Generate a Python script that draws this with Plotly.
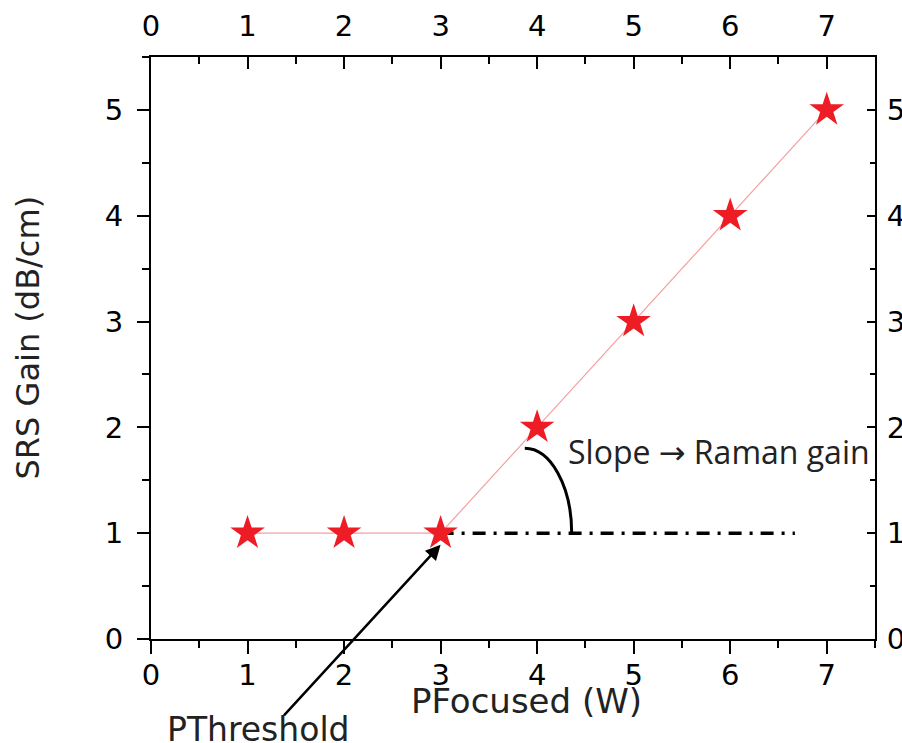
import plotly.graph_objects as go

# Data
p_focused = [1, 2, 3, 4, 5, 6, 7]
srs_gain = [1, 1, 1, 2, 3, 4, 5]
threshold_x = 3
threshold_y = 1
baseline_end_x = 6.67
x_ticks = [0, 1, 2, 3, 4, 5, 6, 7]
y_ticks = [0, 1, 2, 3, 4, 5]

FONT = "DejaVu Sans"
RED = "#ee1c25"

fig = go.Figure()

# thin connecting line
fig.add_trace(go.Scatter(
    x=p_focused, y=srs_gain, mode="lines",
    line=dict(color="#f4a0a0", width=1.2), hoverinfo="skip", showlegend=False))

# dash-dot baseline from threshold
fig.add_trace(go.Scatter(
    x=[threshold_x, baseline_end_x], y=[threshold_y, threshold_y], mode="lines",
    line=dict(color="black", width=3.5, dash="13px,8px,3px,8px"),
    hoverinfo="skip", showlegend=False))

# star markers
fig.add_trace(go.Scatter(
    x=p_focused, y=srs_gain, mode="markers",
    marker=dict(symbol="star", size=26, color=RED, line=dict(width=0)),
    showlegend=False))

# arc marking the slope angle (quarter ellipse)
ax0, ay0 = 3.872, 1.802
ax1, ay1 = 4.358, 1.0
k = 0.552
path = (f"M {ax0},{ay0} C {ax0 + k*(ax1-ax0)},{ay0} {ax1},{ay1 + k*(ay0-ay1)} {ax1},{ay1}")
fig.add_shape(type="path", path=path, xref="x", yref="y",
              line=dict(color="black", width=3))

tickfont = dict(family=FONT, size=29, color="black")
common = dict(showline=True, linewidth=2, linecolor="black", showgrid=False,
              zeroline=False, tickwidth=2, tickcolor="black", tickfont=tickfont,
              automargin=False)

fig.update_layout(
    width=902, height=743,
    margin=dict(l=151, r=27, t=57, b=104),
    paper_bgcolor="white", plot_bgcolor="white",
    xaxis=dict(range=[0, 7.5], tickvals=x_ticks, ticks="outside", ticklen=13,
               minor=dict(dtick=0.5, ticks="outside", ticklen=7, tickwidth=2, tickcolor="black"),
               ticklabelstandoff=-4, **common),
    xaxis2=dict(range=[0, 7.5], tickvals=x_ticks, ticks="inside", ticklen=12,
                overlaying="x", side="top", anchor="y",
                minor=dict(dtick=0.5, ticks="inside", ticklen=7, tickwidth=2, tickcolor="black"),
                ticklabelstandoff=7, **common),
    yaxis=dict(range=[0, 5.5], tickvals=y_ticks, ticks="outside", ticklen=12,
               minor=dict(dtick=0.5, ticks="outside", ticklen=7, tickwidth=2, tickcolor="black"),
               ticklabelstandoff=8, **common),
    yaxis2=dict(range=[0, 5.5], tickvals=y_ticks, ticks="inside", ticklen=8,
                overlaying="y", side="right", anchor="x",
                minor=dict(dtick=0.5, ticks="inside", ticklen=5, tickwidth=2, tickcolor="black"),
                ticklabelstandoff=4, **common),
)

# invisible anchor traces so the secondary axes are drawn
fig.add_trace(go.Scatter(x=[None], y=[None], xaxis="x2", yaxis="y2",
                         showlegend=False, hoverinfo="skip"))

# axis titles
fig.add_annotation(text="PFocused (W)", xref="paper", yref="paper",
                   x=0.518, y=-0.107, xanchor="center", yanchor="middle",
                   showarrow=False, font=dict(family=FONT, size=34, color="#222"))
fig.add_annotation(text="SRS Gain (dB/cm)", xref="paper", yref="paper",
                   x=-0.170, y=0.518, xanchor="center", yanchor="middle", textangle=-90,
                   showarrow=False, font=dict(family=FONT, size=32, color="#222"))

# threshold annotation + arrow
fig.add_annotation(text="PThreshold", xref="paper", yref="paper",
                   x=0.148, y=-0.156, xanchor="center", yanchor="middle",
                   showarrow=False, font=dict(family=FONT, size=33, color="#222"))
fig.add_annotation(text="", x=threshold_x, y=0.89, xref="x", yref="y",
                   ax=-158, ay=172, showarrow=True, arrowhead=2, arrowsize=1.2,
                   arrowwidth=2.5, arrowcolor="black")

# slope note
fig.add_annotation(
    text="Slope <span style=\"font-family:'DejaVu Sans'\">\u2192</span> Raman gain",
    x=4.30, y=1.77, xref="x", yref="y",
    xanchor="left", yanchor="middle", showarrow=False,
    font=dict(family="Open Sans", size=32, color="#222"))

fig.write_html("out.html", post_script="document.body.style.margin='0';",
               config={"displayModeBar": False})
